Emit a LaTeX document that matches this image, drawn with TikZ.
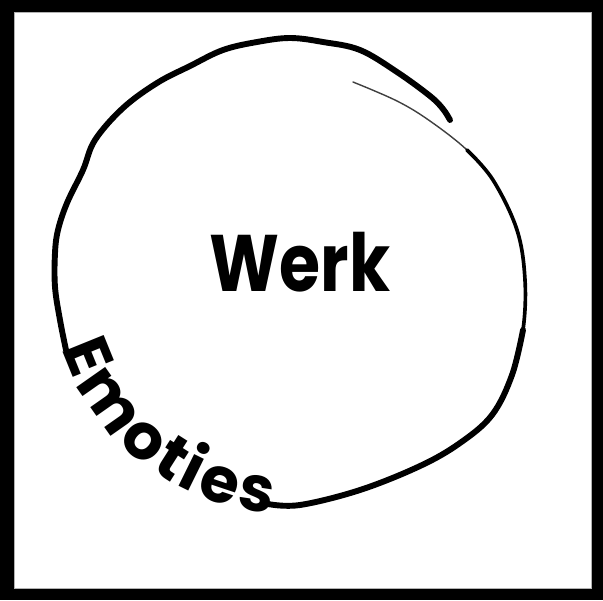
\documentclass[tikz,border=0pt]{standalone}
\usepackage{fontspec}
\newfontfamily\handfont{Poppins}
\usetikzlibrary{decorations.text}

\begin{document}
\begin{tikzpicture}[x=0.025cm, y=-0.025cm,
    pen/.style={black, line width=4.2pt, line cap=round, line join=round},
    midpen/.style={black, line width=2.6pt, line cap=round, line join=round},
    thinpen/.style={black!75, line width=1pt, line cap=round},
    werkfont/.style={font=\handfont\bfseries\fontsize{57}{60}\selectfont}
  ]
  \useasboundingbox (0,0) rectangle (603,600);
  % frame
  \fill[black] (0,0) rectangle (603,600);
  \fill[white] (14,12) rectangle (591,588);
  \draw[gray!60, line width=0.5pt] (14,12) rectangle (591,588);

  % left and top part of the circle, ending in the hook
  \draw[pen] plot[smooth, tension=0.6] coordinates {
    (66,350) (60,320) (55,287) (55,253) (58,230) (67,203) (83,170)
    (95,140) (123,108) (157,83) (190,66) (223,50) (257,42) (290,38)
    (323,42) (360,50) (397,72) (430,96) (443,109) (450,120)};
  % start of the second stroke, faint
  \draw[thinpen] plot[smooth, tension=0.6] coordinates {
    (353,82) (397,101) (430,121) (467,150) (493,180)};
  \draw[midpen] plot[smooth, tension=0.6] coordinates {
    (467,150) (493,180) (517,230) (525,280) (523,330) (512,375)};
  \draw[pen] plot[smooth, tension=0.6] coordinates {
    (523,330) (512,375) (492,415) (460,443) (420,466) (360,490)
    (300,505) (268,504)};

  % text along the lower left arc
  \path[decorate, decoration={text along path, text align={fit to path},
      text={|\handfont\bfseries\fontsize{45}{48}\selectfont|Emoties}}]
    (62,348) arc[start angle=162, end angle=94.5, radius=240];

  \node[werkfont] (werk) at (300,262) {\scalebox{0.83}[1]{Werk}};
\end{tikzpicture}
\end{document}
